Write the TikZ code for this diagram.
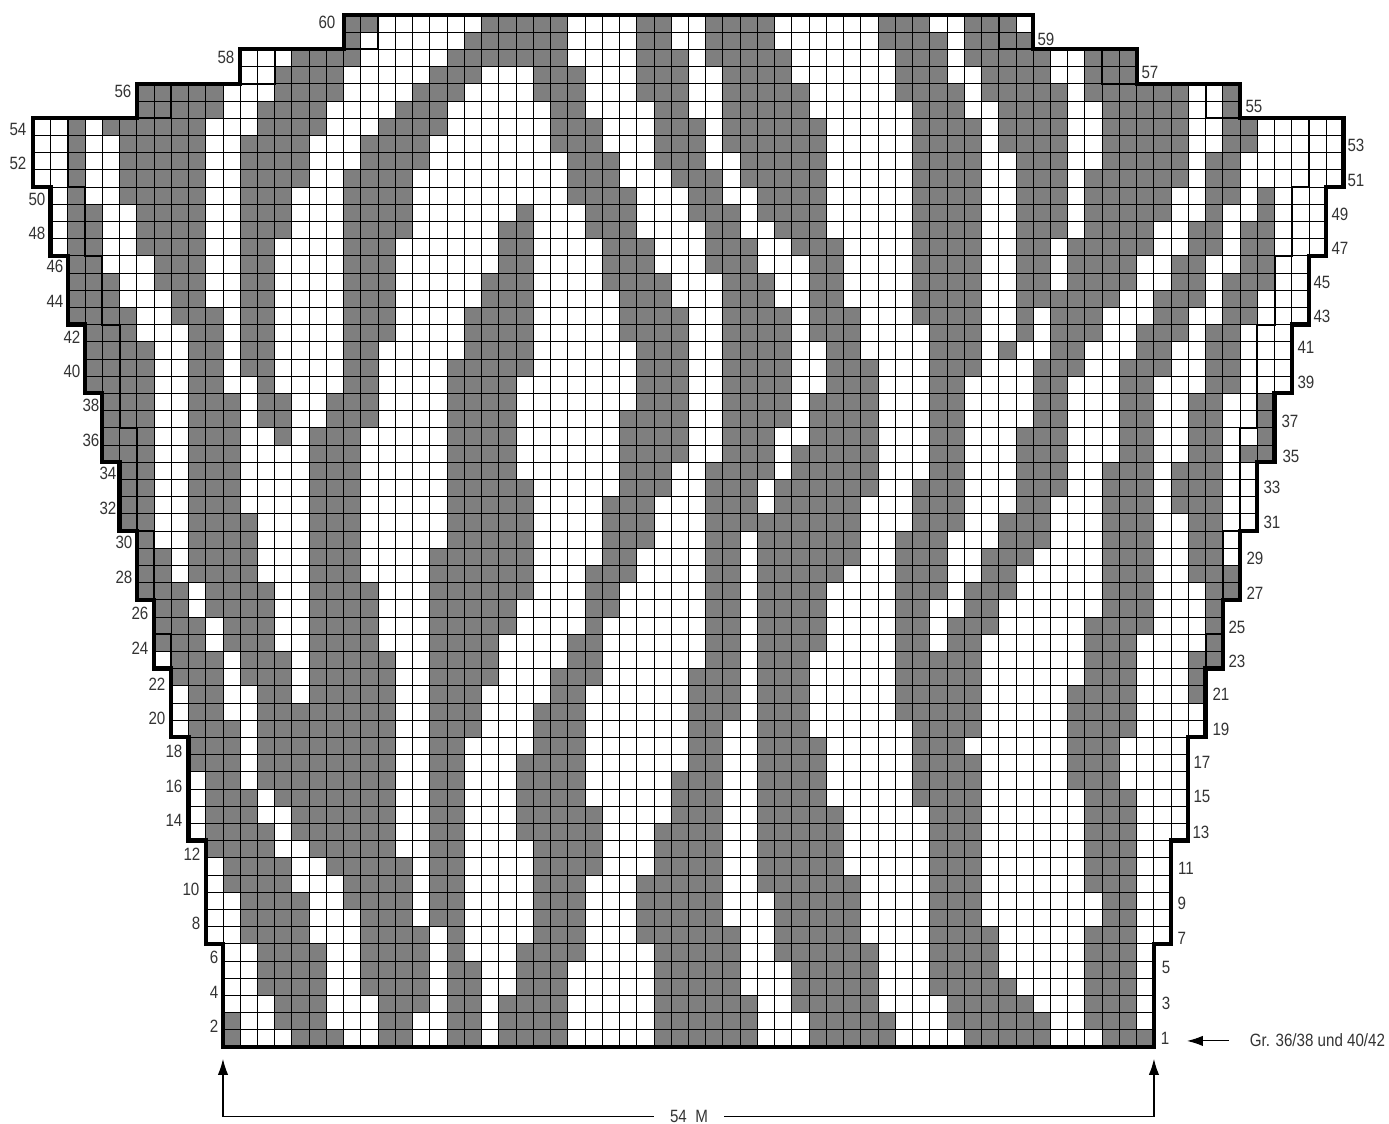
\documentclass[tikz,border=0pt]{standalone}
\usepackage{fontspec}
\setmainfont[FakeStretch=0.85]{Liberation Sans}
\usepackage{xcolor}
\usepackage{tikz}
\usetikzlibrary{arrows.meta}
\definecolor{knitgray}{HTML}{7F7F7F}
\definecolor{labelgray}{HTML}{333333}
\begin{document}
\begin{tikzpicture}[
    x=8.62pt,y=8.6pt,
    font=\fontsize{8.9pt}{10pt}\selectfont,
    darkcell/.style={fill=knitgray},
    gridline/.style={black,line width=0.42pt},
    outerline/.style={black,line width=2.1pt,line join=miter},
    innerline/.style={black,line width=1pt,line join=miter},
    rowlabel/.style={text=labelgray,inner sep=0pt},
    arr/.style={-{Latex[length=8pt,width=5.2pt]},line width=0.55pt}
  ]
    \useasboundingbox (-1.932,-4.477) rectangle (78.64,60.872);
    % dark stitches: row / first/last column of each run
    \foreach \rw/\runs in {
      60/{18/19,26/30,35/36,39/42,49/51,54/56},
      59/{18/18,25/30,35/36,39/42,49/52,54/57},
      58/{15/18,24/30,35/37,39/43,50/52,54/58,61/63},
      57/{14/17,23/25,29/31,35/37,40/43,50/52,55/58,61/63},
      56/{6/10,14/17,22/24,29/31,35/37,40/44,50/53,55/59,61/66,69/69},
      55/{6/10,13/16,21/23,30/31,36/37,40/44,51/53,56/59,62/66,69/69},
      54/{2/2,4/9,13/16,20/23,30/32,36/38,40/45,51/54,56/59,62/66,69/70},
      53/{2/2,5/9,12/15,19/22,30/32,36/38,40/45,51/54,56/59,62/66,69/70},
      52/{2/2,5/9,12/15,19/22,31/33,36/38,41/45,51/54,57/59,62/66,68/69},
      51/{2/2,5/9,12/15,18/21,31/33,37/39,41/45,51/54,57/59,61/66,68/69},
      50/{2/2,5/9,12/14,18/21,31/34,38/39,42/45,51/54,57/59,61/65,68/69,71/71},
      49/{2/3,6/9,12/14,18/21,28/28,32/34,38/40,42/45,51/54,57/59,61/65,68/68,71/71},
      48/{2/3,6/9,12/14,18/21,27/28,32/34,39/40,43/45,51/54,57/59,61/64,67/68,70/71},
      47/{2/3,6/9,12/13,18/20,27/28,33/35,39/41,44/46,51/54,57/58,60/64,67/68,70/71},
      46/{2/3,7/9,12/13,18/20,27/28,33/35,39/41,45/46,51/54,57/58,60/63,66/67,70/71},
      45/{2/4,7/9,12/13,18/20,26/28,33/36,40/42,45/46,51/54,57/58,60/63,66/67,69/71},
      44/{2/4,8/9,12/13,18/20,26/28,34/36,40/42,45/46,51/54,57/62,65/67,69/70},
      43/{2/5,8/10,12/13,18/20,25/28,34/37,40/43,45/47,51/54,57/57,59/61,65/66,69/70},
      42/{3/5,9/10,12/13,18/20,25/28,34/37,40/43,45/47,52/54,57/57,59/61,64/66,68/69},
      41/{3/6,9/10,12/13,18/19,25/28,35/37,40/43,46/47,52/54,56/56,59/60,64/65,68/69},
      40/{3/6,9/10,12/13,18/19,24/28,35/37,40/43,46/48,52/54,58/60,63/65,68/69},
      39/{3/6,9/10,13/13,18/19,24/27,35/37,40/43,46/48,52/53,58/59,63/64,68/69},
      38/{4/6,9/11,13/14,17/19,24/27,35/37,40/43,45/48,52/53,58/59,63/64,67/68,71/71},
      37/{4/6,9/11,13/14,17/19,24/27,34/37,40/43,45/48,52/53,58/59,63/64,67/68,71/71},
      36/{4/6,9/11,14/14,16/18,24/27,34/37,40/42,45/48,52/53,57/59,63/64,67/68,71/71},
      35/{4/6,9/11,16/18,24/27,34/37,40/42,44/48,52/53,57/59,63/64,67/68,70/71},
      34/{5/6,9/11,16/18,24/27,34/36,39/42,44/48,52/53,57/59,62/64,66/68},
      33/{5/6,9/11,16/18,24/28,34/36,39/41,43/48,51/53,57/59,62/64,66/68},
      32/{5/6,9/11,16/18,24/28,33/35,39/41,43/47,51/53,57/58,62/64,66/68},
      31/{5/6,9/12,16/18,24/28,33/35,39/47,51/53,56/58,62/64,67/68},
      30/{6/6,9/12,16/18,24/28,33/35,39/40,42/47,50/52,56/58,62/64,67/68},
      29/{6/7,9/12,16/18,23/28,33/34,39/40,42/47,50/52,55/57,62/64,67/68},
      28/{6/7,9/12,16/18,23/28,32/34,39/40,42/46,50/52,55/56,62/64,67/69},
      27/{6/8,10/13,16/19,23/28,32/33,39/40,42/45,50/52,54/56,62/64,68/69},
      26/{7/8,10/13,16/19,23/27,32/33,39/40,42/45,50/51,54/55,62/64,68/68},
      25/{7/9,11/13,16/19,23/27,32/32,39/40,42/45,50/51,53/55,61/64,68/68},
      24/{7/9,11/13,16/19,23/26,31/32,39/40,42/45,50/51,53/54,61/63,68/68},
      23/{8/10,12/14,16/20,23/26,31/32,39/40,42/44,50/54,61/63,67/68},
      22/{8/10,12/14,16/20,23/26,30/32,38/40,42/44,50/54,61/63,67/67},
      21/{9/10,13/14,16/20,23/25,30/31,38/40,42/44,50/54,60/63,67/67},
      20/{9/10,13/20,23/25,29/31,38/40,42/44,50/54,60/63},
      19/{9/11,13/20,23/25,29/31,38/39,42/44,51/54,60/63},
      18/{9/11,13/20,23/24,29/31,38/39,42/45,51/53,60/62},
      17/{9/11,13/20,23/24,28/31,38/39,42/45,51/54,60/62},
      16/{10/11,13/20,23/24,28/31,37/39,42/45,51/54,60/62},
      15/{10/12,14/20,23/24,28/31,37/39,42/45,51/54,61/63},
      14/{10/12,15/20,23/24,28/32,37/39,42/46,52/54,61/63},
      13/{10/13,15/20,23/24,28/32,36/39,42/46,52/54,61/63},
      12/{10/13,16/20,23/24,29/32,36/39,42/46,52/54,61/63},
      11/{11/14,17/21,23/24,29/32,36/39,42/46,52/54,61/63},
      10/{11/14,18/21,23/24,29/31,35/39,42/47,52/54,61/63},
      9/{12/15,18/21,23/24,29/31,35/39,43/47,52/54,62/63},
      8/{12/15,19/21,23/24,29/31,35/39,43/47,52/54,62/63},
      7/{12/15,19/22,24/24,29/31,35/40,43/47,52/55,61/63},
      6/{13/16,19/22,24/24,28/31,36/40,43/48,52/55,61/63},
      5/{13/16,19/22,24/25,28/30,36/40,44/48,52/55,61/63},
      4/{13/16,19/22,24/25,28/30,36/40,44/48,52/56,61/63},
      3/{14/16,20/22,24/25,27/30,36/41,44/48,53/57,61/63},
      2/{11/11,14/16,20/21,24/25,27/30,36/41,45/49,53/58,61/63},
      1/{11/11,15/17,20/21,24/25,27/30,36/41,45/49,54/58,62/64}}{
      \foreach \a/\b in \runs {
        \fill[darkcell] (\a,\rw-1) rectangle (\b+1,\rw);
      }
    }
    % grid inside the outline
    \begin{scope}
      \clip (11,0) |- (10,6) |- (9,12) |- (8,18) |- (7,22) |- (6,26) |- (5,30) |- (4,34) |- (3,38) |- (2,42) |- (1,46) |- (0,50) |- (6,54) |- (12,56) |- (18,58) |- (58,60) |- (64,58) |- (70,56) |- (76,54) |- (75,50) |- (74,46) |- (73,42) |- (72,38) |- (71,34) |- (70,30) |- (69,26) |- (68,22) |- (67,18) |- (66,12) |- (65,6) |- cycle;
      \draw[gridline,step=1] (0,0) grid (76,60);
    \end{scope}
    % size lines
    \draw[innerline] (20,60) -- (20,58) -- (14,58) -- (14,56) -- (8,56) -- (8,54) -- (2,54) -- (2,50) -- (3,50) -- (3,46) -- (4,46) -- (4,42) -- (5,42) -- (5,36) -- (6,36) -- (6,30) -- (7,30) -- (7,24) -- (8,24) -- (8,22);
    \draw[innerline] (56,60) -- (56,58) -- (62,58) -- (62,56) -- (68,56) -- (68,54) -- (74,54) -- (74,50) -- (73,50) -- (73,46) -- (72,46) -- (72,42) -- (71,42) -- (71,36) -- (70,36) -- (70,30) -- (69,30) -- (69,24) -- (68,24) -- (68,22);
    \draw[outerline] (11,0) -- (11,6) -- (10,6) -- (10,12) -- (9,12) -- (9,18) -- (8,18) -- (8,22) -- (7,22) -- (7,26) -- (6,26) -- (6,30) -- (5,30) -- (5,34) -- (4,34) -- (4,38) -- (3,38) -- (3,42) -- (2,42) -- (2,46) -- (1,46) -- (1,50) -- (0,50) -- (0,54) -- (6,54) -- (6,56) -- (12,56) -- (12,58) -- (18,58) -- (18,60) -- (58,60) -- (58,58) -- (64,58) -- (64,56) -- (70,56) -- (70,54) -- (76,54) -- (76,50) -- (75,50) -- (75,46) -- (74,46) -- (74,42) -- (73,42) -- (73,38) -- (72,38) -- (72,34) -- (71,34) -- (71,30) -- (70,30) -- (70,26) -- (69,26) -- (69,22) -- (68,22) -- (68,18) -- (67,18) -- (67,12) -- (66,12) -- (66,6) -- (65,6) -- (65,0) -- cycle;
    % row numbers, placed in pixels of the page
    \begin{scope}[shift={(-1.932,60.872)},x=0.5pt,y=-0.5pt]
      \foreach \n/\px/\py in {2/214/1026,4/214/992,6/214/957,8/196/923,10/191/889,12/192/854,14/174/820,16/174/786,18/174/751,20/157/718,22/157/684,24/140/648,26/140/613,28/124/577,30/124/542,32/108/508,34/108/473,36/91/440,38/91/405,40/72/371,42/72/337,44/55/301,46/55/266,48/37/233,50/37/199,52/18/163,54/18/129,56/123/91,58/226/57,60/327/22,
        1/1165/1038,3/1166/1003,5/1166/968,7/1182/938,9/1182/903,11/1186/868,13/1201/832,15/1202/797,17/1202/762,19/1221/729,21/1221/694,23/1237/661,25/1237/627,27/1255/593,29/1255/558,31/1272/522,33/1272/487,35/1291/456,37/1290/421,39/1306/382,41/1306/347,43/1322/316,45/1322/282,47/1340/248,49/1340/214,51/1356/180,53/1356/145,55/1254/106,57/1150/72,59/1046/39}{
        \node[rowlabel] (row\n) at (\px,\py) {\n};
      }
      \node[rowlabel] (sizes) at (1317.5,1040) {Gr. 36/38 und 40/42};
      \node[rowlabel,inner xsep=8pt] (stitches) at (689,1116.5) {54~ M};
      \coordinate (sizestart) at (1229,1041);
      \coordinate (sizetip) at (1187,1041);
      \coordinate (lefttip) at (223,1059);
      \coordinate (righttip) at (1154,1059);
    \end{scope}
    \draw[arr] (sizestart) -- (sizetip);
    \draw[arr] (stitches.west) -| (lefttip);
    \draw[arr] (stitches.east) -| (righttip);
  \end{tikzpicture}
\end{document}
